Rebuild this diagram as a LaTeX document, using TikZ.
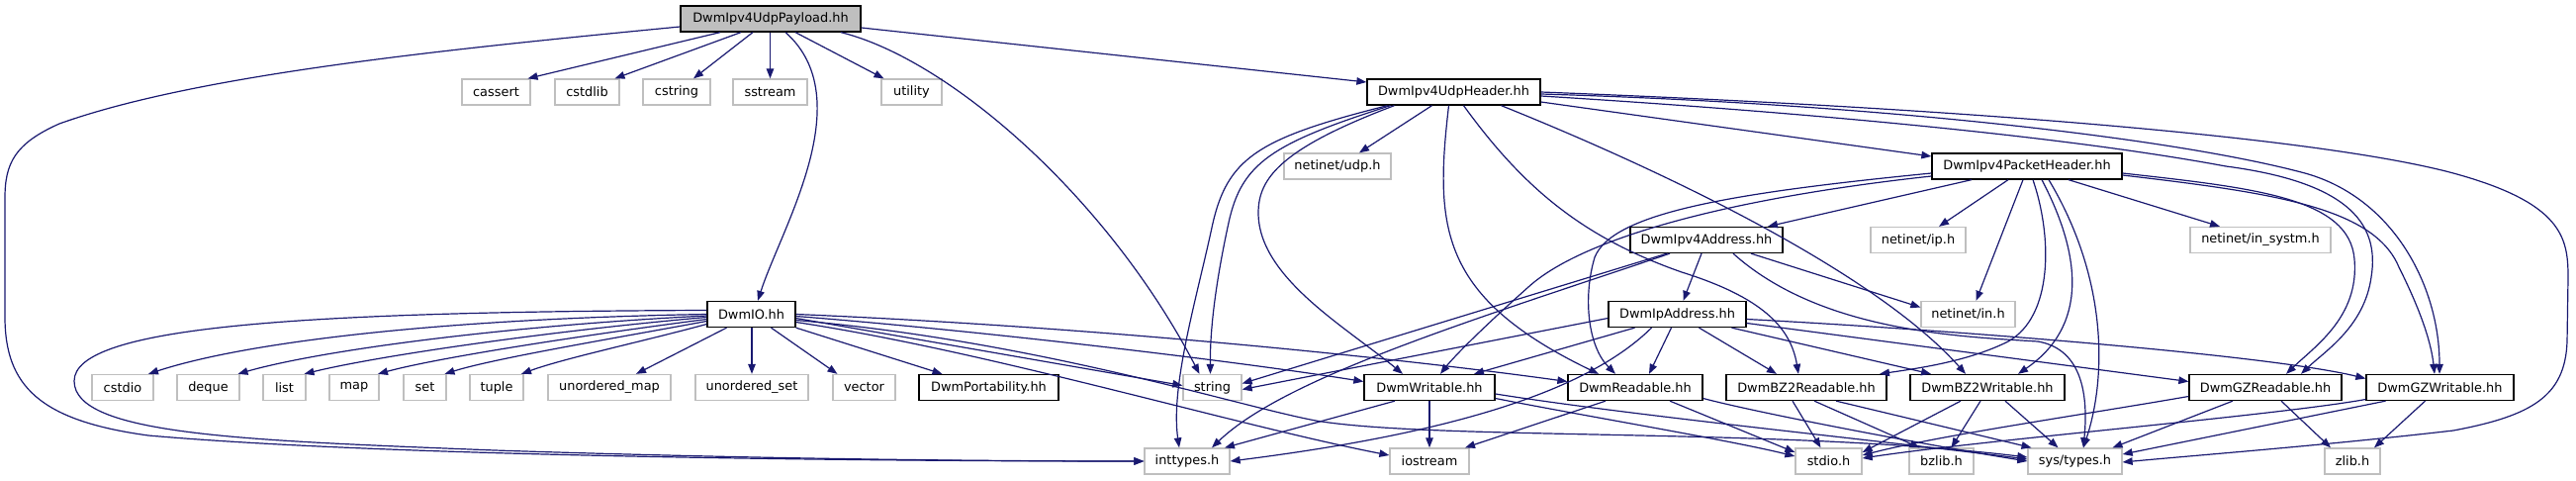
\documentclass[tikz,border=0pt]{standalone}
\usepackage{fontspec}
\setmainfont{DejaVu Sans}
\usetikzlibrary{arrows.meta}
\definecolor{grey75}{HTML}{BFBFBF}
\definecolor{edgec}{HTML}{191970}
\newcommand{\nodefnt}{\fontsize{12.9pt}{15pt}\selectfont}
\tikzset{
  box/.style={draw=black, line width=1.3pt, minimum height=26pt, inner sep=0pt, font=\nodefnt, fill=white},
  sysbox/.style={box, draw=grey75},
  rootbox/.style={box, fill=grey75},
  dep/.style={draw=edgec, line width=1.2pt, -{Triangle[length=10pt,width=7.5pt]}},
}
\begin{document}
\begin{tikzpicture}[x=1pt,y=-1pt]
\useasboundingbox (0,0) rectangle (2604,485);
% ---------- nodes ----------
\node[rootbox, minimum width=182pt] (P) at (779,19) {DwmIpv4UdpPayload.hh};
\node[sysbox, minimum width=69pt] (cassert) at (501.5,93) {cassert};
\node[sysbox, minimum width=65pt] (cstdlib) at (593.5,93) {cstdlib};
\node[sysbox, minimum width=68pt] (cstring) at (684,93) {cstring};
\node[sysbox, minimum width=75pt] (sstream) at (778.5,93) {sstream};
\node[sysbox, minimum width=61pt] (utility) at (921.5,93) {utility};
\node[box, minimum width=175pt] (UH) at (1469.5,93) {DwmIpv4UdpHeader.hh};
\node[sysbox, minimum width=108pt] (udp) at (1352,168) {netinet/udp.h};
\node[box, minimum width=192pt] (PH) at (2049,168) {DwmIpv4PacketHeader.hh};
\node[box, minimum width=154pt] (A4) at (1725,242.5) {DwmIpv4Address.hh};
\node[sysbox, minimum width=96pt] (iph) at (1939,242.5) {netinet/ip.h};
\node[sysbox, minimum width=142pt] (insystm) at (2285,242.5) {netinet/in\_systm.h};
\node[box, minimum width=89pt] (IO) at (759.5,317.5) {DwmIO.hh};
\node[box, minimum width=139pt] (IA) at (1695.5,317.5) {DwmIpAddress.hh};
\node[sysbox, minimum width=95pt] (inh) at (1989.5,317.5) {netinet/in.h};
\node[sysbox, minimum width=62pt] (cstdio) at (124,391.5) {cstdio};
\node[sysbox, minimum width=63pt] (deque) at (210.5,391.5) {deque};
\node[sysbox, minimum width=43pt] (list) at (287.5,391.5) {list};
\node[sysbox, minimum width=50pt] (map) at (358,391.5) {map};
\node[sysbox, minimum width=43pt] (set) at (429.5,391.5) {set};
\node[sysbox, minimum width=54pt] (tuple) at (502,391.5) {tuple};
\node[sysbox, minimum width=124pt] (umap) at (616,391.5) {unordered\_map};
\node[sysbox, minimum width=114pt] (uset) at (760,391.5) {unordered\_set};
\node[sysbox, minimum width=63pt] (vector) at (873.5,391.5) {vector};
\node[box, minimum width=141pt] (Port) at (999.5,391.5) {DwmPortability.hh};
\node[sysbox, minimum width=59pt] (string) at (1225.5,391.5) {string};
\node[box, minimum width=132pt] (W) at (1445,391.5) {DwmWritable.hh};
\node[box, minimum width=136pt] (R) at (1653,391.5) {DwmReadable.hh};
\node[box, minimum width=162pt] (BZR) at (1826,391.5) {DwmBZ2Readable.hh};
\node[box, minimum width=156pt] (BZW) at (2009,391.5) {DwmBZ2Writable.hh};
\node[box, minimum width=154pt] (GZR) at (2290,391.5) {DwmGZReadable.hh};
\node[box, minimum width=149pt] (GZW) at (2466.5,391.5) {DwmGZWritable.hh};
\node[sysbox, minimum width=86pt] (inttypes) at (1200,466) {inttypes.h};
\node[sysbox, minimum width=80pt] (iostream) at (1445,466) {iostream};
\node[sysbox, minimum width=67pt] (stdio) at (1848.5,466) {stdio.h};
\node[sysbox, minimum width=65pt] (bzlib) at (1962.5,466) {bzlib.h};
\node[sysbox, minimum width=95pt] (systypes) at (2097.5,466) {sys/types.h};
\node[sysbox, minimum width=56pt] (zlib) at (2378,466) {zlib.h};
% ---------- DwmIpv4UdpPayload.hh ----------
\draw[dep] ([xshift=-51pt]P.south) -- ([xshift=32pt]cassert.north);
\draw[dep] ([xshift=-30pt]P.south) -- ([xshift=28pt]cstdlib.north);
\draw[dep] ([xshift=-18pt]P.south) -- ([xshift=17pt]cstring.north);
\draw[dep] ([xshift=-0.5pt]P.south) -- (sstream.north);
\draw[dep] ([xshift=25pt]P.south) -- ([xshift=-28pt]utility.north);
\draw[dep] ([xshift=15pt]P.south) .. controls (870,100) and (790,230) .. ([xshift=6.5pt]IO.north);
\draw[dep] ([xshift=71pt]P.south) .. controls (960,60) and (1120,200) .. ([xshift=-13pt]string.north);
\draw[dep] ([yshift=-9pt]P.east) -- ([yshift=10pt]UH.west);
\draw[dep] ([yshift=-8pt]P.west) .. controls (450,50) and (200,75) .. (60,125)
  .. controls (15,145) and (5,165) .. (5,200) -- (5,320)
  .. controls (5,390) and (40,425) .. (150,440)
  .. controls (400,462) and (900,466) .. (inttypes.west);
% ---------- DwmIpv4UdpHeader.hh ----------
\draw[dep] ([xshift=-67pt]UH.south) .. controls (1270,140) and (1240,160) .. (1225,230)
  .. controls (1210,300) and (1183,390) .. ([xshift=-8pt]inttypes.north);
\draw[dep] ([xshift=-64pt]UH.south) .. controls (1285,145) and (1255,165) .. (1242,225)
  .. controls (1230,280) and (1223,330) .. ([xshift=-2pt]string.north);
\draw[dep] ([xshift=-60pt]UH.south) .. controls (1295,150) and (1272,180) .. (1272,215)
  .. controls (1272,280) and (1360,330) .. ([xshift=-27pt]W.north);
\draw[dep] ([xshift=-22pt]UH.south) -- ([xshift=22pt]udp.north);
\draw[dep] ([xshift=-5pt]UH.south) .. controls (1450,230) and (1455,300) .. ([xshift=-37pt]R.north);
\draw[dep] ([xshift=10pt]UH.south) .. controls (1540,190) and (1600,240) .. (1700,275)
  .. controls (1780,300) and (1810,330) .. ([xshift=-8pt]BZR.north);
\draw[dep] ([xshift=48pt]UH.south) .. controls (1700,180) and (1900,280) .. ([xshift=-22pt]BZW.north);
\draw[dep] ([yshift=-10pt]UH.east) -- ([yshift=10pt]PH.west);
\draw[dep] ([yshift=-4pt]UH.east) .. controls (1850,115) and (2100,140) .. (2250,168)
  .. controls (2380,185) and (2405,230) .. (2397,280)
  .. controls (2390,330) and (2350,355) .. ([xshift=36pt]GZR.north);
\draw[dep] ([yshift=-2pt]UH.east) .. controls (1900,105) and (2200,140) .. (2330,175)
  .. controls (2420,200) and (2466,290) .. ([xshift=-0.5pt]GZW.north);
\draw[dep] (UH.east) .. controls (2000,110) and (2350,140) .. (2480,175)
  .. controls (2590,205) and (2596,240) .. (2596,280) -- (2595,345)
  .. controls (2593,400) and (2560,420) .. (2480,435)
  .. controls (2350,450) and (2220,460) .. ([yshift=-1pt]systypes.east);
% ---------- DwmIpv4PacketHeader.hh ----------
\draw[dep] ([xshift=-56pt]PH.south) -- ([xshift=62pt]A4.north);
\draw[dep] ([xshift=-19pt]PH.south) -- ([xshift=21pt]iph.north);
\draw[dep] ([xshift=-4pt]PH.south) -- ([xshift=8pt]inh.north);
\draw[dep] ([xshift=42pt]PH.south) -- ([xshift=-41pt]insystm.north);
\draw[dep] ([yshift=-7pt]PH.west) .. controls (1750,195) and (1630,215) .. (1612,260)
  .. controls (1600,300) and (1605,350) .. ([xshift=-20pt]R.north);
\draw[dep] ([yshift=-10pt]PH.west) .. controls (1750,200) and (1600,240) .. (1545,290)
  .. controls (1500,330) and (1470,360) .. ([xshift=11pt]W.north);
\draw[dep] ([xshift=6pt]PH.south) .. controls (2075,240) and (2075,320) .. (2030,345)
  .. controls (1990,365) and (1940,372) .. ([xshift=74pt]BZR.north);
\draw[dep] ([xshift=15pt]PH.south) .. controls (2105,260) and (2110,330) .. ([xshift=31pt]BZW.north);
\draw[dep] ([xshift=22pt]PH.south) .. controls (2130,280) and (2130,380) .. ([xshift=8.5pt]systypes.north);
\draw[dep] ([yshift=-7pt]PH.east) .. controls (2280,190) and (2375,200) .. (2380,262)
  .. controls (2385,320) and (2340,350) .. ([xshift=21pt]GZR.north);
\draw[dep] ([yshift=-9pt]PH.east) .. controls (2300,195) and (2400,210) .. (2425,270)
  .. controls (2450,320) and (2458,350) .. ([xshift=-5.5pt]GZW.north);
% ---------- DwmIpv4Address.hh ----------
\draw[dep] ([xshift=-5pt]A4.south) -- ([xshift=6pt]IA.north);
\draw[dep] ([xshift=45pt]A4.south) -- ([yshift=7pt]inh.west);
\draw[dep] ([xshift=27pt]A4.south) .. controls (1840,335) and (1980,340) .. (2060,345)
  .. controls (2100,352) and (2112,390) .. ([xshift=8.5pt]systypes.north);
\draw[dep] ([xshift=-40pt]A4.south) -- ([yshift=4pt]string.east);
\draw[dep] ([xshift=-37pt]A4.south) .. controls (1500,320) and (1300,380) .. ([xshift=25pt]inttypes.north);
% ---------- DwmIpAddress.hh ----------
\draw[dep] ([yshift=-4pt]IA.west) -- ([yshift=-2pt]string.east);
\draw[dep] ([xshift=-43pt]IA.south) -- ([xshift=45pt]W.north);
\draw[dep] ([xshift=-26pt]IA.south) .. controls (1600,400) and (1450,440) .. (inttypes.east);
\draw[dep] ([xshift=-6pt]IA.south) -- ([xshift=14pt]R.north);
\draw[dep] ([xshift=22pt]IA.south) -- ([xshift=-30pt]BZR.north);
\draw[dep] ([xshift=55pt]IA.south) -- ([xshift=-57pt]BZW.north);
\draw[dep] ([yshift=-9pt]IA.east) -- ([yshift=6pt]GZR.west);
\draw[dep] ([yshift=-5pt]IA.east) .. controls (2000,335) and (2300,360) .. ([yshift=9pt]GZW.west);
% ---------- DwmIO.hh ----------
\draw[dep] (IO.west) .. controls (450,322) and (250,345) .. ([xshift=26pt]cstdio.north);
\draw[dep] ([yshift=-1.5pt]IO.west) .. controls (500,330) and (320,355) .. ([xshift=30pt]deque.north);
\draw[dep] ([yshift=-3pt]IO.west) .. controls (550,335) and (380,360) .. ([xshift=20pt]list.north);
\draw[dep] ([yshift=-5pt]IO.west) .. controls (580,340) and (440,362) .. ([xshift=24pt]map.north);
\draw[dep] ([yshift=-7pt]IO.west) .. controls (620,342) and (500,362) .. ([xshift=20pt]set.north);
\draw[dep] ([yshift=-10pt]IO.west) .. controls (650,345) and (570,362) .. ([xshift=25pt]tuple.north);
\draw[dep] ([xshift=-25pt]IO.south) -- ([xshift=27pt]umap.north);
\draw[dep] ([xshift=0.5pt]IO.south) -- (uset.north);
\draw[dep] ([xshift=20pt]IO.south) -- ([xshift=-27pt]vector.north);
\draw[dep] (IO.south east) -- ([xshift=-47pt]Port.north);
\draw[dep] ([yshift=-4pt]IO.east) -- ([yshift=2pt]string.west);
\draw[dep] ([yshift=-2pt]IO.east) .. controls (1000,335) and (1250,365) .. ([yshift=6pt]W.west);
\draw[dep] (IO.east) .. controls (1100,330) and (1400,360) .. ([yshift=6pt]R.west);
\draw[dep] ([yshift=-8pt]IO.east) .. controls (1000,355) and (1250,430) .. ([yshift=6pt]iostream.west);
\draw[dep] ([yshift=-6pt]IO.east) .. controls (1050,345) and (1250,410) .. (1330,425)
  .. controls (1450,445) and (1800,432) .. ([yshift=4pt]systypes.west);
\draw[dep] ([yshift=4pt]IO.west) .. controls (300,315) and (75,330) .. (75,385)
  .. controls (75,440) and (250,445) .. (500,455)
  .. controls (800,465) and (1050,466) .. (inttypes.west);
% ---------- DwmWritable.hh / DwmReadable.hh ----------
\draw[dep] ([xshift=-35pt]W.south) -- ([xshift=38pt]inttypes.north);
\draw[dep] (W.south) -- (iostream.north);
\draw[dep] ([yshift=-11pt]W.east) .. controls (1600,420) and (1750,445) .. ([yshift=5pt]stdio.west);
\draw[dep] ([yshift=-6.5pt]W.east) .. controls (1650,420) and (1900,445) .. ([yshift=2pt]systypes.west);
\draw[dep] ([xshift=-30pt]R.south) -- ([xshift=36pt]iostream.north);
\draw[dep] ([xshift=35pt]R.south) -- ([yshift=9pt]stdio.west);
\draw[dep] ([yshift=-11pt]R.east) .. controls (1780,418) and (1950,450) .. (systypes.west);
% ---------- BZ2 / GZ ----------
\draw[dep] ([xshift=-14pt]BZR.south) -- ([xshift=-8pt]stdio.north);
\draw[dep] ([xshift=8pt]BZR.south) -- ([xshift=-22pt]bzlib.north);
\draw[dep] ([xshift=30pt]BZR.south) -- ([xshift=-44pt]systypes.north);
\draw[dep] ([xshift=-27pt]BZW.south) -- ([yshift=9pt]stdio.east);
\draw[dep] ([xshift=-7pt]BZW.south) -- ([xshift=10pt]bzlib.north);
\draw[dep] ([xshift=18pt]BZW.south) -- ([xshift=-17pt]systypes.north);
\draw[dep] ([yshift=-9pt]GZR.west) .. controls (2100,420) and (1960,440) .. ([yshift=6pt]stdio.east);
\draw[dep] ([xshift=-33pt]GZR.south) -- ([xshift=38pt]systypes.north);
\draw[dep] ([xshift=16pt]GZR.south) -- ([xshift=-22pt]zlib.north);
\draw[dep] ([yshift=-12pt]GZW.west) .. controls (2300,420) and (2000,445) .. ([yshift=3pt]stdio.east);
\draw[dep] ([xshift=-55pt]GZW.south) -- ([yshift=7pt]systypes.east);
\draw[dep] ([xshift=-15pt]GZW.south) -- ([xshift=22pt]zlib.north);
\end{tikzpicture}
\end{document}
